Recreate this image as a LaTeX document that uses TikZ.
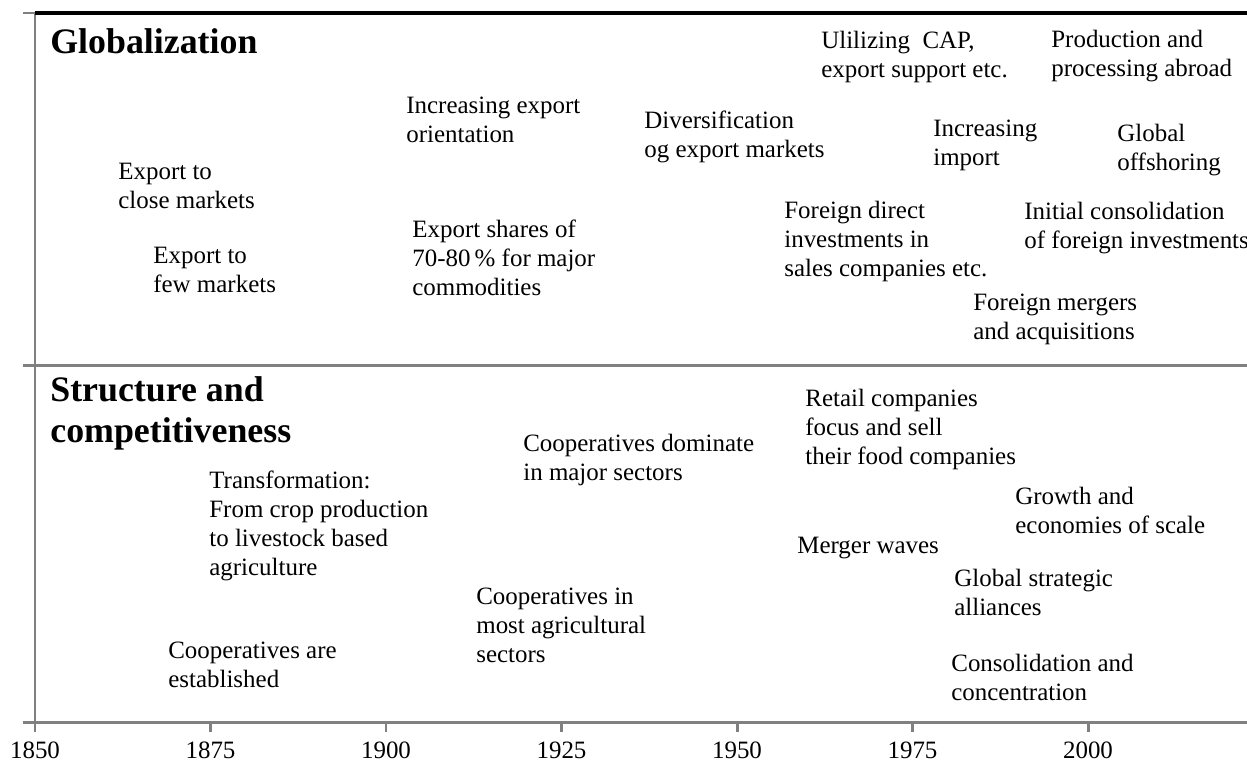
\documentclass[tikz,border=0pt]{standalone}
\usepackage{fontspec}
\setmainfont{Liberation Serif}
\usetikzlibrary{positioning}
\tikzset{
        event/.style={anchor=base west, inner sep=0pt, align=left, font=\fontsize{14.2}{16.4}\selectfont}, % one development, placed by its last line
        band title/.style={anchor=base west, inner sep=0pt, align=left, font=\fontsize{20.4}{22.8}\selectfont\bfseries}, % name of a band
        frame/.style={draw=gray, line width=1.7pt}, % gray axis and separators
        year/.style={anchor=base, inner sep=0pt, font=\fontsize{14.2}{16.4}\selectfont}, % year under a tick
    }

\begin{document}
\begin{tikzpicture}[x=0.02cm, y=-0.02cm]
    \useasboundingbox (0,0) rectangle (1247,765);
    % frame
    \coordinate (topleft) at (35,13);
    \coordinate (origin) at (35,722);
    \draw[frame] (23,13) -- (topleft) -- (origin);
    \draw[line width=2.3pt] (topleft) -- (1247,13);
    \draw[frame] (23,365) -- (1247,365);
    \draw[frame] (23,722) -- (1247,722);
    \foreach \yr [count=\i from 0] in {1850,1875,...,2000}
      \draw[frame] (35+175.5*\i,722) -- ++(0,10) node[year] at (35+175.5*\i,758) {\yr};

    % globalization
    \node[band title] (glob) at (50,53) {Globalization};
    \node[event] (closemkt) at (118,208) {Export to\\close markets};
    \node[event] (fewmkt) at (153,292) {Export to\\few markets};
    \node[event] (exportorient) at (406,142) {Increasing export\\orientation};
    \node[event] (exportshares) at (412,295) {Export shares of\\70-80\,\% for major\\commodities};
    \node[event] (diversif) at (644,157) {Diversification\\og export markets};
    \node[event] (cap) at (821,77) {Ulilizing\ \ CAP,\\export support etc.};
    \node[event] (abroad) at (1051,76) {Production and\\processing abroad};
    \node[event] (import) at (933,165) {Increasing\\import};
    \node[event] (offshoring) at (1117,170) {Global\\offshoring};
    \node[event] (fdi) at (784,276) {Foreign direct\\investments in\\sales companies etc.};
    \node[event] (consolid) at (1024,248) {Initial consolidation\\of foreign investments};
    \node[event] (mergers) at (973,339) {Foreign mergers\\and acquisitions};

    % structure and competitiveness
    \node[band title] (struct) at (50,442) {Structure and\\competitiveness};
    \node[event] (transform) at (209,575) {Transformation:\\From crop production\\to livestock based\\agriculture};
    \node[event] (coopest) at (168,687) {Cooperatives are\\established};
    \node[event] (coopdom) at (523,480) {Cooperatives dominate\\in major sectors};
    \node[event] (coopmost) at (476,662) {Cooperatives in\\most agricultural\\sectors};
    \node[event] (retail) at (805,464) {Retail companies\\focus and sell\\their food companies};
    \node[event] (growth) at (1015,533) {Growth and\\economies of scale};
    \node[event] (mergerwaves) at (797,553) {Merger waves};
    \node[event] (alliances) at (954,615) {Global strategic\\alliances};
    \node[event] (concentr) at (951,700) {Consolidation and\\concentration};
\end{tikzpicture}
\end{document}
